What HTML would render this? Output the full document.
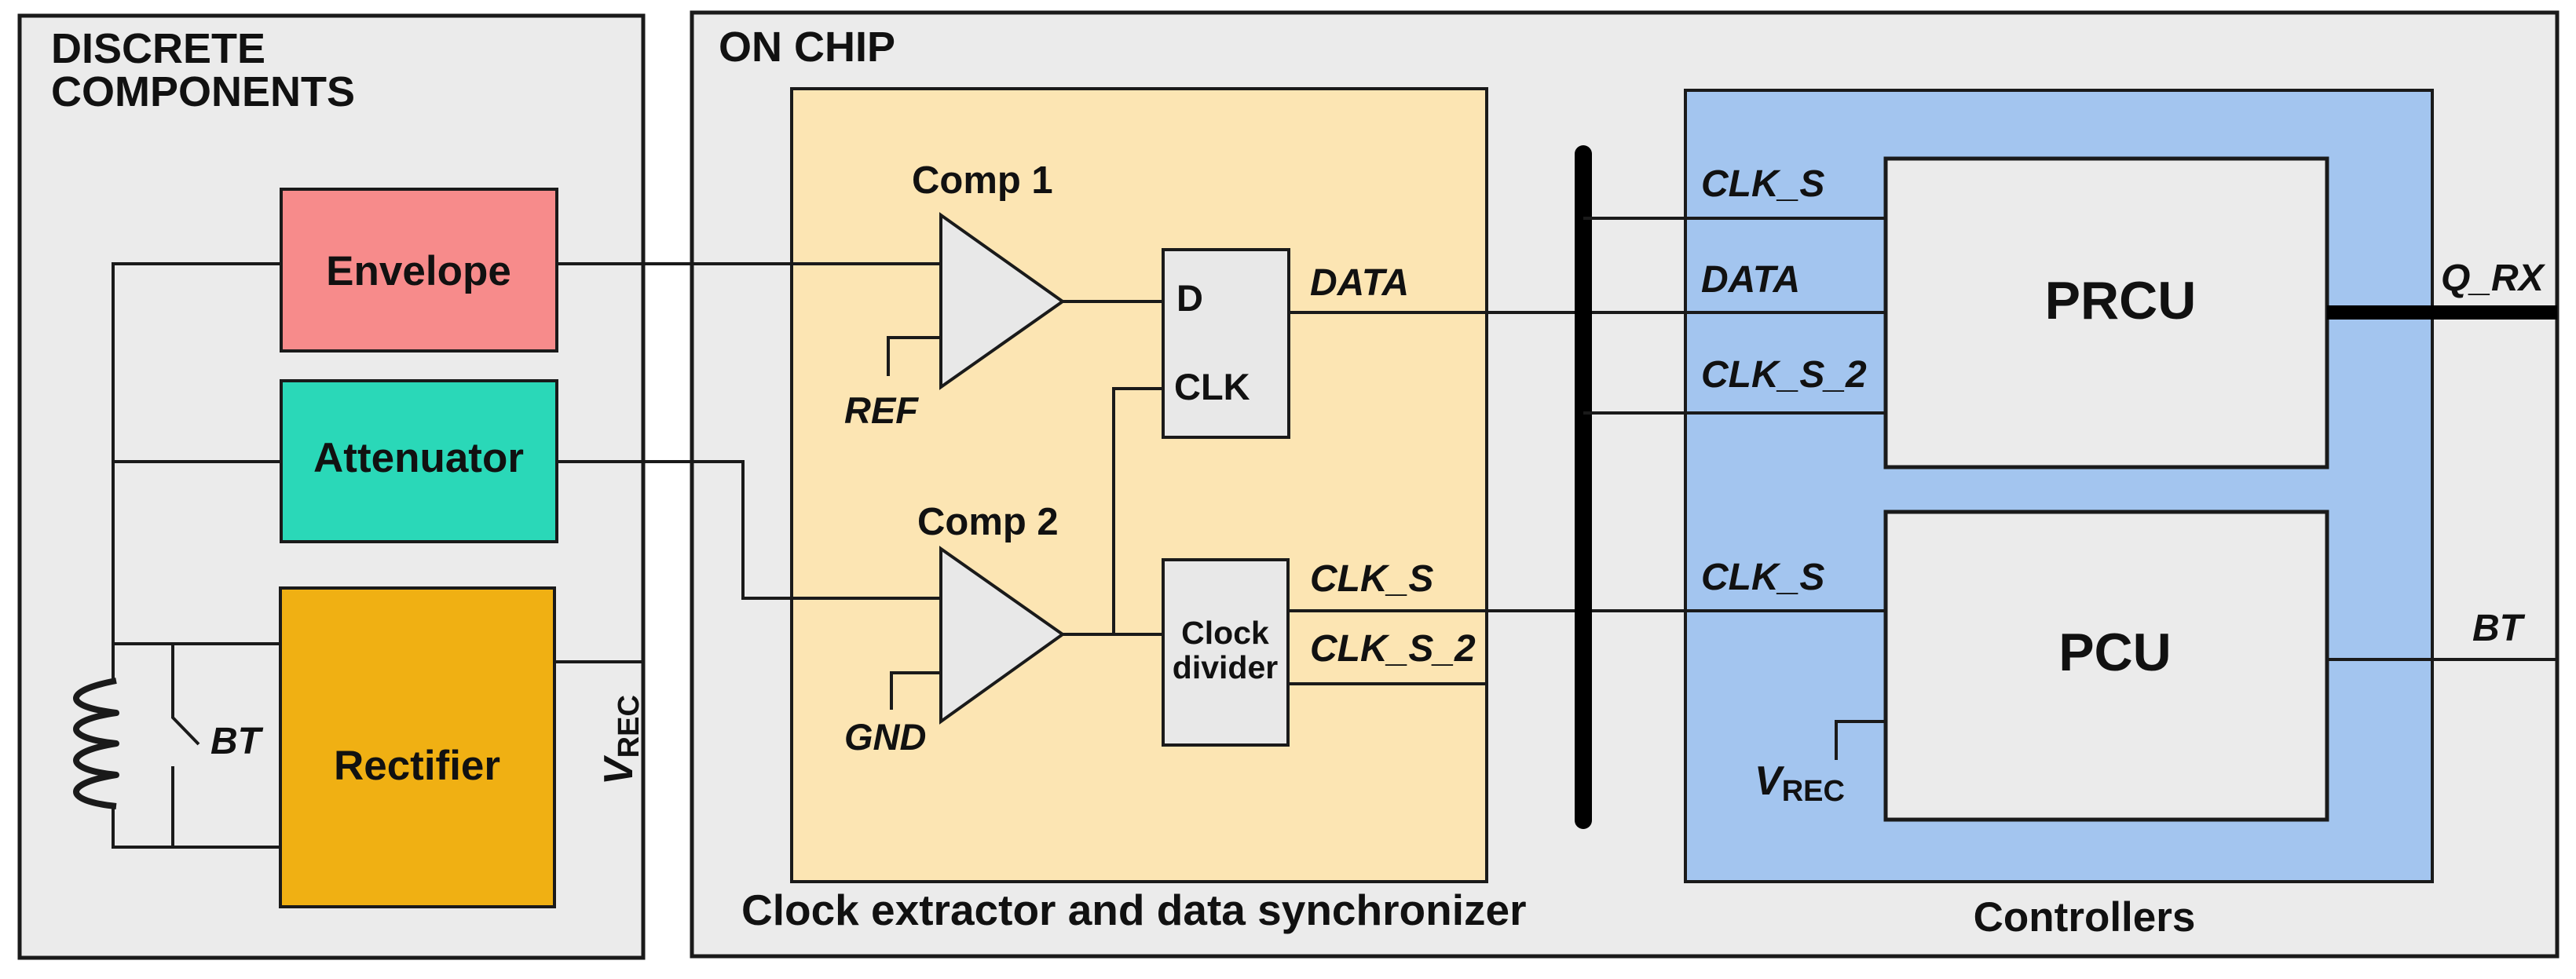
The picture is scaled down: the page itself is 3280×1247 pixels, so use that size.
<!DOCTYPE html>
<html><head><meta charset="utf-8"><style>
html,body{margin:0;padding:0;background:#fff}
svg{display:block}
text{font-family:"Liberation Sans",Arial,sans-serif;font-weight:bold;fill:#111}
.i{font-style:italic}
</style></head><body>
<svg width="3280" height="1247" viewBox="0 0 3280 1247" xmlns="http://www.w3.org/2000/svg">
<g stroke="#1a1a1a" stroke-width="4" fill="none">
<!-- panels -->
<rect x="25" y="20" width="794" height="1200" fill="#ebebeb" stroke-width="5"/>
<rect x="881" y="16" width="2375" height="1202" fill="#ebebeb" stroke-width="5"/>
<rect x="1008" y="113" width="885" height="1010" fill="#fce5b3"/>
<rect x="2146" y="115" width="951" height="1008" fill="#a3c5ef"/>
<!-- discrete blocks -->
<rect x="358" y="241" width="351" height="206" fill="#f78b8b"/>
<rect x="358" y="485" width="351" height="205" fill="#2ad8b8"/>
<rect x="357" y="749" width="349" height="406" fill="#f0b013"/>
<!-- discrete wiring -->
<polyline points="358,336 144,336 144,867"/>
<line x1="144" y1="588" x2="358" y2="588"/>
<line x1="144" y1="820" x2="357" y2="820"/>
<polyline points="144,1027 144,1079 357,1079"/>
<path stroke-width="8" stroke-linejoin="round" d="M148,867 C80,880 80,900 148,908 C80,918 80,940 148,947 C80,958 80,980 148,987 C80,998 80,1020 148,1027"/>
<polyline points="220,820 220,914 253,948"/>
<line x1="220" y1="976" x2="220" y2="1079"/>
<line x1="706" y1="843" x2="819" y2="843"/>
<!-- to chip -->
<line x1="709" y1="336" x2="1198" y2="336"/>
<polyline points="709,588 946,588 946,762 1198,762"/>
<!-- comparators -->
<polygon points="1198,274 1353,384 1198,493" fill="#e8e8e8"/>
<polygon points="1198,699 1353,808 1198,919" fill="#e8e8e8"/>
<polyline points="1198,430 1131,430 1131,479"/>
<polyline points="1198,857 1135,857 1135,904"/>
<line x1="1353" y1="384" x2="1481" y2="384"/>
<line x1="1353" y1="808" x2="1481" y2="808"/>
<polyline points="1481,495 1418,495 1418,808"/>
<rect x="1481" y="318" width="160" height="239" fill="#e8e8e8"/>
<rect x="1481" y="713" width="159" height="236" fill="#e8e8e8"/>
<line x1="1641" y1="398" x2="2401" y2="398"/>
<line x1="1640" y1="778" x2="2401" y2="778"/>
<line x1="1640" y1="871" x2="1893" y2="871"/>
<!-- bus -->
<line x1="2016" y1="196" x2="2016" y2="1045" stroke-width="22" stroke-linecap="round" stroke="#000"/>
<line x1="2016" y1="278" x2="2401" y2="278"/>
<line x1="2016" y1="526" x2="2401" y2="526"/>
<!-- controllers -->
<rect x="2401" y="202" width="562" height="393" fill="#ebebeb" stroke-width="5"/>
<rect x="2401" y="652" width="562" height="392" fill="#ebebeb" stroke-width="5"/>
<line x1="2963" y1="398" x2="3256" y2="398" stroke-width="18" stroke="#000"/>
<line x1="2963" y1="840" x2="3256" y2="840"/>
<polyline points="2401,919 2338,919 2338,968"/>
</g>
<!-- labels -->
<text x="65" y="80" font-size="54">DISCRETE</text>
<text x="65" y="135" font-size="54">COMPONENTS</text>
<text x="915" y="78" font-size="54">ON CHIP</text>
<text x="533" y="363" font-size="53" text-anchor="middle">Envelope</text>
<text x="533" y="601" font-size="53" text-anchor="middle">Attenuator</text>
<text x="531" y="993" font-size="53" text-anchor="middle">Rectifier</text>
<text x="268" y="960" font-size="48" class="i">BT</text>
<text transform="translate(805,1000) rotate(-90)" font-size="52" class="i" font-weight="normal">V<tspan font-size="38" font-style="normal" dy="8">REC</tspan></text>
<text x="1161" y="246" font-size="49">Comp 1</text>
<text x="1168" y="681" font-size="49">Comp 2</text>
<text x="1075" y="539" font-size="47" class="i">REF</text>
<text x="1075" y="955" font-size="47" class="i">GND</text>
<text x="1498" y="396" font-size="47">D</text>
<text x="1495" y="509" font-size="47">CLK</text>
<text x="1560" y="820" font-size="41" text-anchor="middle">Clock</text>
<text x="1560" y="864" font-size="41" text-anchor="middle">divider</text>
<text x="1668" y="376" font-size="48" class="i">DATA</text>
<text x="1668" y="753" font-size="48" class="i">CLK_S</text>
<text x="1668" y="842" font-size="48" class="i">CLK_S_2</text>
<text x="944" y="1178" font-size="55">Clock extractor and data synchronizer</text>
<text x="2166" y="250" font-size="48" class="i">CLK_S</text>
<text x="2166" y="372" font-size="48" class="i">DATA</text>
<text x="2166" y="493" font-size="48" class="i">CLK_S_2</text>
<text x="2166" y="751" font-size="48" class="i">CLK_S</text>
<text x="2700" y="406" font-size="68" text-anchor="middle">PRCU</text>
<text x="2693" y="854" font-size="68" text-anchor="middle">PCU</text>
<text x="3108" y="370" font-size="48" class="i">Q_RX</text>
<text x="3148" y="816" font-size="48" class="i">BT</text>
<text x="2234" y="1012" font-size="52" class="i" font-weight="normal">V<tspan font-size="38" font-style="normal" dy="8">REC</tspan></text>
<text x="2654" y="1186" font-size="53" text-anchor="middle">Controllers</text>
</svg>
</body></html>
